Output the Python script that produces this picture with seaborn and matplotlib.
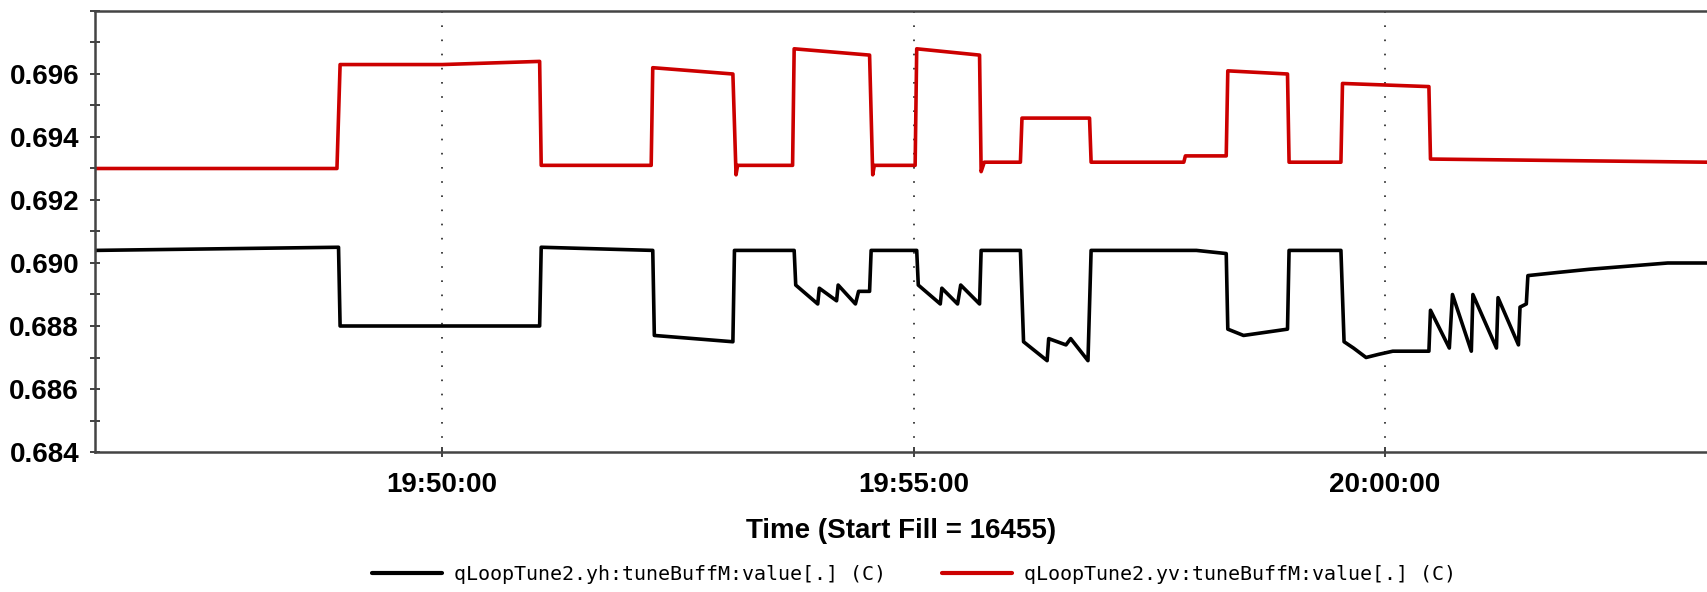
import pandas as pd
import numpy as np
import matplotlib
matplotlib.use("Agg")
import matplotlib.pyplot as plt
import matplotlib.dates as mdates
from matplotlib.ticker import MultipleLocator, FixedLocator
import seaborn as sns

# qLoopTune2.yh:tuneBuffM:value[.] (C)  -- black trace
yh_times = [
    "19:46:19", "19:48:54", "19:48:55", "19:51:02", "19:51:03", "19:52:14",
    "19:52:15", "19:53:05", "19:53:06", "19:53:44", "19:53:45", "19:53:59",
    "19:54:00", "19:54:11", "19:54:12", "19:54:23", "19:54:25", "19:54:32",
    "19:54:33", "19:55:02", "19:55:03", "19:55:17", "19:55:18", "19:55:28",
    "19:55:30", "19:55:42", "19:55:43", "19:56:08", "19:56:10", "19:56:25",
    "19:56:26", "19:56:37", "19:56:40", "19:56:51", "19:56:53", "19:58:00",
    "19:58:19", "19:58:20", "19:58:30", "19:58:58", "19:58:59", "19:59:32",
    "19:59:34", "19:59:40", "19:59:48", "19:59:56", "20:00:05", "20:00:28",
    "20:00:29", "20:00:41", "20:00:43", "20:00:55", "20:00:56", "20:01:11",
    "20:01:12", "20:01:25", "20:01:26", "20:01:30", "20:01:31", "20:01:50",
    "20:02:10", "20:02:35", "20:03:00", "20:03:25",
]
yh_values = [
    0.6904, 0.6905, 0.6880, 0.6880, 0.6905, 0.6904,
    0.6877, 0.6875, 0.6904, 0.6904, 0.6893, 0.6887,
    0.6892, 0.6888, 0.6893, 0.6887, 0.6891, 0.6891,
    0.6904, 0.6904, 0.6893, 0.6887, 0.6892, 0.6887,
    0.6893, 0.6887, 0.6904, 0.6904, 0.6875, 0.6869,
    0.6876, 0.6874, 0.6876, 0.6869, 0.6904, 0.6904,
    0.6903, 0.6879, 0.6877, 0.6879, 0.6904, 0.6904,
    0.6875, 0.6873, 0.6870, 0.6871, 0.6872, 0.6872,
    0.6885, 0.6873, 0.6890, 0.6872, 0.6890, 0.6873,
    0.6889, 0.6874, 0.6886, 0.6887, 0.6896, 0.6897,
    0.6898, 0.6899, 0.6900, 0.6900,
]

# qLoopTune2.yv:tuneBuffM:value[.] (C)  -- red trace
yv_times = [
    "19:46:19", "19:48:53", "19:48:55", "19:50:00", "19:51:02", "19:51:03",
    "19:52:13", "19:52:14", "19:53:05", "19:53:07", "19:53:08", "19:53:43",
    "19:53:44", "19:54:32", "19:54:34", "19:54:35", "19:55:01", "19:55:02",
    "19:55:42", "19:55:43", "19:55:45", "19:56:08", "19:56:09", "19:56:52",
    "19:56:53", "19:57:52", "19:57:53", "19:58:19", "19:58:20", "19:58:58",
    "19:58:59", "19:59:32", "19:59:33", "20:00:28", "20:00:29", "20:03:25",
]
yv_values = [
    0.6930, 0.6930, 0.6963, 0.6963, 0.6964, 0.6931,
    0.6931, 0.6962, 0.6960, 0.6928, 0.6931, 0.6931,
    0.6968, 0.6966, 0.6928, 0.6931, 0.6931, 0.6968,
    0.6966, 0.6929, 0.6932, 0.6932, 0.6946, 0.6946,
    0.6932, 0.6932, 0.6934, 0.6934, 0.6961, 0.6960,
    0.6932, 0.6932, 0.6957, 0.6956, 0.6933, 0.6932,
]

y_ticks = [0.684, 0.686, 0.688, 0.690, 0.692, 0.694, 0.696]
labels = ["qLoopTune2.yh:tuneBuffM:value[.] (C)", "qLoopTune2.yv:tuneBuffM:value[.] (C)"]
day = "2012-03-10 "

df = pd.concat([
    pd.DataFrame({"time": pd.to_datetime([day + t for t in yh_times]), "value": yh_values, "series": labels[0]}),
    pd.DataFrame({"time": pd.to_datetime([day + t for t in yv_times]), "value": yv_values, "series": labels[1]}),
])

sns.set_theme(style="white")
plt.rcParams["font.family"] = ["Liberation Sans", "DejaVu Sans"]
plt.rcParams["text.color"] = "black"
plt.rcParams["xtick.color"] = "black"
plt.rcParams["ytick.color"] = "black"

fig = plt.figure(figsize=(17.07, 5.92), dpi=100)
ax = fig.add_axes([95 / 1707, 1 - 452 / 592, 1 - 95 / 1707, 441 / 592])

sns.lineplot(data=df, x="time", y="value", hue="series", estimator=None, sort=False,
             palette={labels[0]: "#000000", labels[1]: "#CC0000"}, linewidth=2.6, ax=ax)

ax.set_xlim(pd.Timestamp(day + "19:46:19"), pd.Timestamp(day + "20:03:25"))
ax.set_ylim(0.684, 0.698)
ax.yaxis.set_major_locator(FixedLocator(y_ticks))
ax.yaxis.set_minor_locator(MultipleLocator(0.001))
ax.yaxis.set_major_formatter(plt.FuncFormatter(lambda v, p: f"{v:.3f}"))
ax.xaxis.set_major_locator(mdates.MinuteLocator(byminute=[50, 55, 0]))
ax.xaxis.set_major_formatter(mdates.DateFormatter("%H:%M:%S"))

ax.tick_params(axis="both", which="both", direction="inout", length=7, width=1.3,
               color="#333333", labelsize=20, labelcolor="black")
ax.tick_params(axis="y", which="both", left=True, pad=8)
ax.tick_params(axis="x", which="major", bottom=True, pad=11)
for lbl in ax.get_xticklabels() + ax.get_yticklabels():
    lbl.set_fontweight("bold")

ax.xaxis.grid(True, which="major", color="#222222", linestyle=(0, (1, 7.5)), linewidth=1.2)
ax.yaxis.grid(False)

for side in ["left", "bottom", "top"]:
    ax.spines[side].set_color("#444444")
    ax.spines[side].set_linewidth(1.8)
ax.spines["right"].set_visible(False)

ax.set_xlabel("Time (Start Fill = 16455)", fontsize=20, fontweight="bold", labelpad=14, color="black")
ax.set_ylabel("")

handles, leg_labels = ax.get_legend_handles_labels()
for h in handles:
    h.set_linewidth(3.0)
ax.legend(handles, leg_labels, loc="center", bbox_to_anchor=(0.508, -0.277),
          ncol=2, frameon=False, prop={"family": "DejaVu Sans Mono", "size": 14.4},
          handlelength=3.5, handletextpad=0.6, columnspacing=2.8)

fig.savefig("out.png", dpi=100)
